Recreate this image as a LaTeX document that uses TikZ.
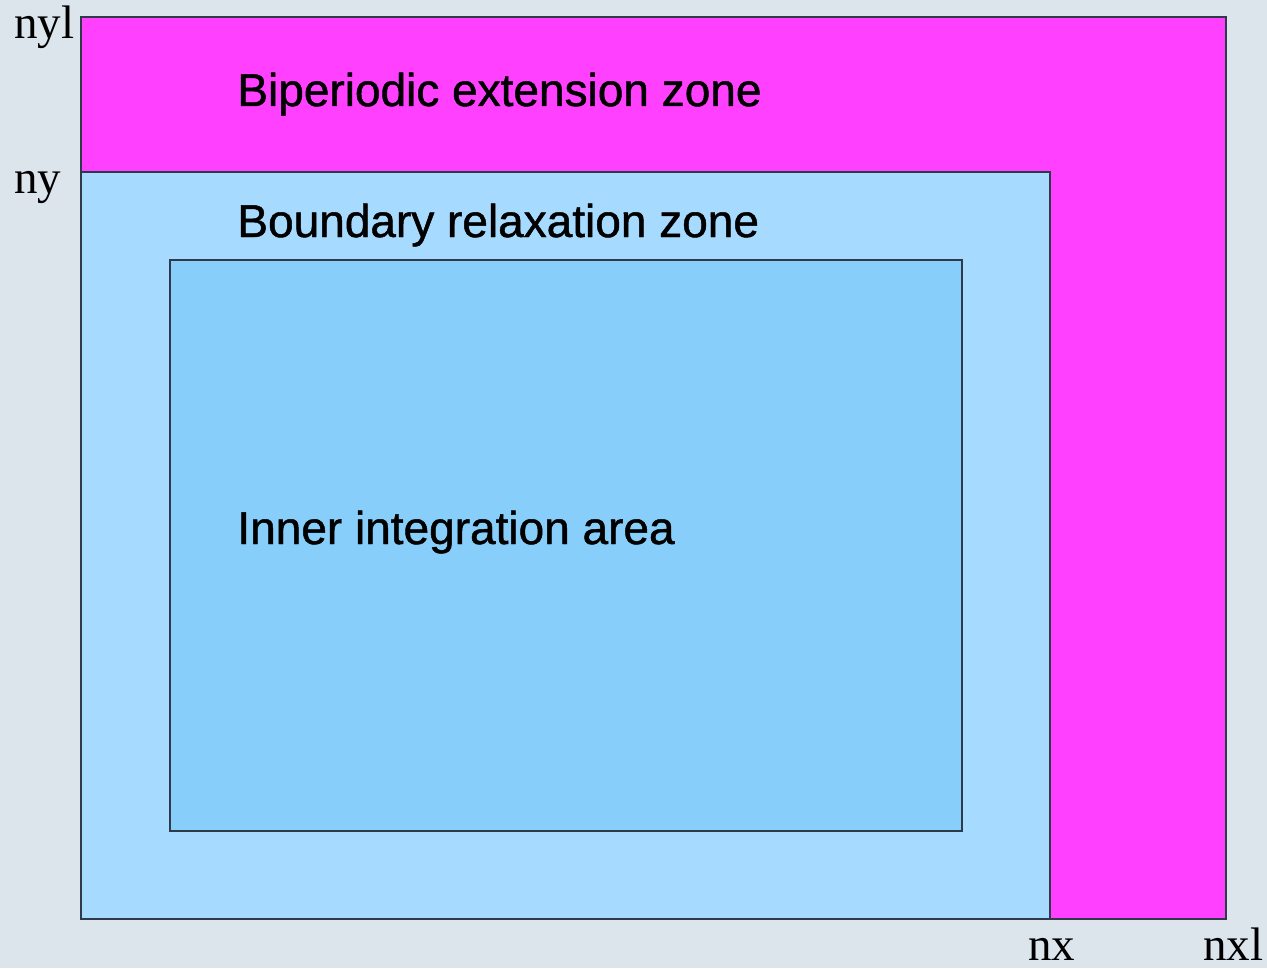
\documentclass[tikz,border=0pt]{standalone}
\usepackage{fontspec}
\setmainfont{Liberation Serif}
\newfontfamily\labelsans[FakeBold=1]{Liberation Sans}
\definecolor{bgcol}{HTML}{DCE4EC}
\definecolor{extcol}{HTML}{FF40FF}
\definecolor{relaxcol}{HTML}{A6DAFF}
\definecolor{innercol}{HTML}{87CEFA}
\definecolor{edgecol}{HTML}{2E3A4A}
\tikzset{
  zone/.style={draw=edgecol, line width=0.6pt},
  zonetext/.style={anchor=base west, inner sep=0pt, font=\labelsans\fontsize{23}{27}\selectfont},
  idxtext/.style={anchor=base west, inner sep=0pt, font=\fontsize{23.5}{28}\selectfont},
}
\begin{document}
\begin{tikzpicture}[x=0.5pt,y=-0.5pt]
  % page background
  \fill[bgcol] (0,0) rectangle (1267,968);
  \useasboundingbox (0,0) rectangle (1267,968);
  % nested zones
  \draw[zone, fill=extcol] (81,17) rectangle (1226,919);
  \draw[zone, fill=relaxcol] (81,172) rectangle (1050,919);
  \draw[zone, fill=innercol] (170,260) rectangle (962,831);
  % zone names
  \node[zonetext] (ext) at (237,106) {Biperiodic extension zone};
  \node[zonetext] (relax) at (237,237) {Boundary relaxation zone};
  \node[zonetext] (inner) at (237,544) {Inner integration area};
  % index limits
  \node[idxtext] (nyl) at (14,39) {nyl};
  \node[idxtext] (ny) at (14,193) {ny};
  \node[idxtext] (nx) at (1028,960) {nx};
  \node[idxtext] (nxl) at (1203,960) {nxl};
\end{tikzpicture}
\end{document}
